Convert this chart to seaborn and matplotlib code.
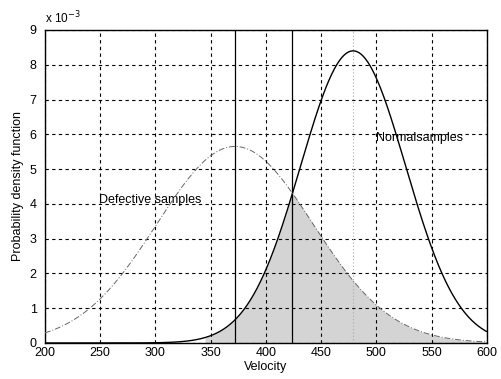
import numpy as np
import pandas as pd
import matplotlib
matplotlib.use("Agg")
import matplotlib.pyplot as plt
import seaborn as sns

# Parameters of the two Gaussian density curves
defective_mean = 372.0
defective_std = 70.6
normal_mean = 479.0
normal_std = 47.5
x_range = [200, 600]
threshold = 424.0
shade_start = 345.0
x_ticks = [200, 250, 300, 350, 400, 450, 500, 550, 600]
y_ticks = [0, 1, 2, 3, 4, 5, 6, 7, 8, 9]

sns.set_theme(style="white")
plt.rcParams['font.family'] = ['Liberation Sans', 'DejaVu Sans']
plt.rcParams['text.color'] = 'black'
plt.rcParams['axes.labelcolor'] = 'black'

def pdf(x, m, s):
    return np.exp(-0.5 * ((x - m) / s) ** 2) / (s * np.sqrt(2 * np.pi))

xs = np.linspace(x_range[0], x_range[1], 801)
df = pd.DataFrame({
    "Velocity": np.concatenate([xs, xs]),
    "pdf": np.concatenate([pdf(xs, defective_mean, defective_std),
                           pdf(xs, normal_mean, normal_std)]) * 1e3,
    "group": ["Defective"] * len(xs) + ["Normal"] * len(xs),
})

fig = plt.figure(figsize=(5.02, 3.79), dpi=100)
ax = fig.add_axes([0.0896, 0.095, 0.880, 0.826])

# shaded overlap
m = xs >= shade_start
lower = np.minimum(pdf(xs, defective_mean, defective_std), pdf(xs, normal_mean, normal_std)) * 1e3
ax.fill_between(xs[m], 0, lower[m], color="#d4d4d4", zorder=1, linewidth=0)

sns.lineplot(data=df[df.group == "Normal"], x="Velocity", y="pdf", ax=ax,
             color="black", linewidth=1.0, zorder=4)
sns.lineplot(data=df[df.group == "Defective"], x="Velocity", y="pdf", ax=ax,
             color="#666666", linewidth=0.7, linestyle=(0, (6, 2, 1, 2)), zorder=4)

ax.axvline(defective_mean, color="black", linewidth=0.9, zorder=3)
ax.axvline(threshold, color="black", linewidth=0.9, zorder=3)
ax.axvline(normal_mean, color="#aaaaaa", linewidth=0.8, linestyle=(0, (1, 2)), zorder=3)

ax.set_xlim(*x_range)
ax.set_ylim(0, 9)
ax.set_xticks(x_ticks)
ax.set_yticks(y_ticks)
ax.grid(True, color="black", linestyle=(0, (3, 3)), linewidth=0.8)
ax.set_axisbelow(False)
for sp in ax.spines.values():
    sp.set_color("black")
    sp.set_linewidth(1.0)
ax.tick_params(axis="x", labelsize=9, length=0, pad=3, colors="black")
ax.tick_params(axis="y", labelsize=9, length=0, pad=6, colors="black")
ax.set_xlabel("Velocity", fontsize=9, labelpad=1, color="black")
ax.set_ylabel("Probability density function", fontsize=9, labelpad=4, color="black")
ax.text(0.0, 1.012, "x 10$^{-3}$", transform=ax.transAxes, fontsize=8.5, ha="left", va="bottom", color="black")
ax.text(249, 4.1, "Defective samples", fontsize=9, ha="left", va="center", color="black")
ax.text(500, 5.9, "Normalsamples", fontsize=9, ha="left", va="center", color="black")

fig.savefig("out.png", dpi=100)
